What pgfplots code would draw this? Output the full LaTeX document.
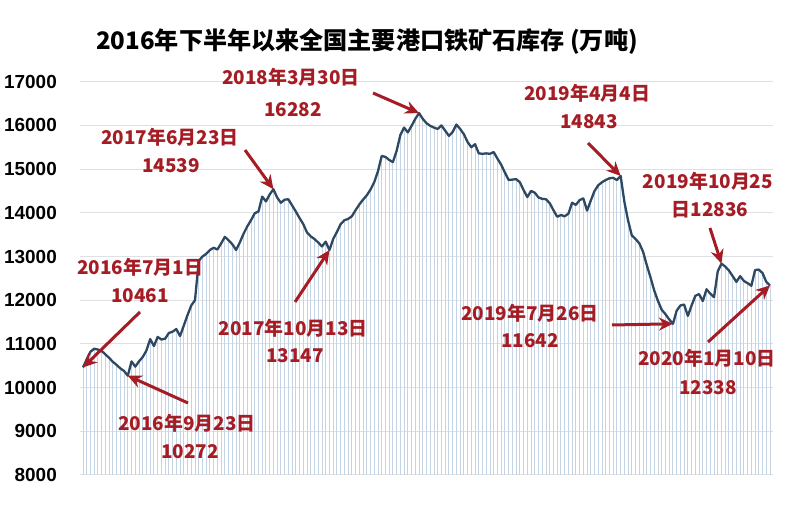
\documentclass[border=0pt]{standalone}
\usepackage{pgfplots}
\pgfplotsset{compat=1.18}
\usepackage{pgfplotstable}
\usetikzlibrary{arrows.meta}
\usepackage{fontspec}
\setmainfont{Liberation Sans}
\newfontfamily\cjk{Noto Sans CJK SC}

\definecolor{lineblue}{RGB}{45,72,98}
\definecolor{dropblue}{RGB}{196,212,228}
\definecolor{gridgray}{RGB}{222,224,228}
\definecolor{annored}{RGB}{165,28,36}

% weekly port inventory, 2016-07-01 .. 2020-01-10 (index = week)
\pgfplotstableread{
i v
0 10461
1 10650
2 10820
3 10890
4 10870
5 10840
6 10760
7 10680
8 10590
9 10520
10 10440
11 10380
12 10272
13 10600
14 10480
15 10600
16 10700
17 10850
18 11110
19 10950
20 11160
21 11100
22 11120
23 11250
24 11280
25 11340
26 11180
27 11420
28 11660
29 11880
30 12000
31 12900
32 13000
33 13060
34 13150
35 13200
36 13160
37 13300
38 13450
39 13370
40 13280
41 13150
42 13320
43 13520
44 13690
45 13830
46 13990
47 14030
48 14370
49 14260
50 14420
51 14539
52 14350
53 14230
54 14300
55 14310
56 14170
57 14030
58 13880
59 13740
60 13550
61 13460
62 13400
63 13320
64 13230
65 13340
66 13147
67 13400
68 13560
69 13740
70 13830
71 13860
72 13920
73 14060
74 14190
75 14300
76 14400
77 14530
78 14700
79 14950
80 15300
81 15280
82 15210
83 15160
84 15420
85 15780
86 15950
87 15840
88 15990
89 16150
90 16282
91 16150
92 16050
93 15990
94 15950
95 15920
96 16000
97 15880
98 15760
99 15850
100 16020
101 15920
102 15800
103 15620
104 15500
105 15570
106 15360
107 15350
108 15360
109 15350
110 15390
111 15240
112 15100
113 14920
114 14750
115 14760
116 14770
117 14700
118 14520
119 14360
120 14500
121 14460
122 14350
123 14320
124 14310
125 14220
126 14060
127 13910
128 13950
129 13920
130 13980
131 14230
132 14180
133 14290
134 14330
135 14050
136 14280
137 14500
138 14630
139 14700
140 14750
141 14790
142 14800
143 14750
144 14843
145 14250
146 13820
147 13480
148 13400
149 13300
150 13110
151 12800
152 12520
153 12220
154 11980
155 11780
156 11680
157 11560
158 11460
159 11760
160 11880
161 11900
162 11640
163 11880
164 12100
165 12140
166 11980
167 12250
168 12150
169 12070
170 12660
171 12836
172 12770
173 12680
174 12550
175 12420
176 12550
177 12440
178 12390
179 12330
180 12690
181 12700
182 12620
183 12420
184 12338
}\stock

\begin{document}
\begin{tikzpicture}
\useasboundingbox (0,0) rectangle (794bp,516bp);
\begin{axis}[
    at={(80bp,41bp)}, anchor=south west,
    scale only axis, width=693bp, height=393.3bp,
    xmin=-0.8, xmax=184.8,
    ymin=8000, ymax=17000,
    xtick=\empty,
    ytick={8000,9000,...,17000},
    scaled y ticks=false,
    /pgf/number format/1000 sep={},
    /pgf/number format/assume math mode=true,
    yticklabel style={font=\bfseries\fontsize{19}{19}\selectfont, inner sep=0pt, xshift=-23bp},
    ymajorgrids=true,
    grid style={draw=gridgray, line width=1bp},
    axis line style={draw=none},
    major tick length=0pt,
    clip mode=individual,
]
\addplot[ycomb, draw=dropblue, line width=0.9bp] table[x=i, y=v] {\stock};
\addplot[draw=lineblue, line width=2.3bp, line join=round] table[x=i, y=v] {\stock};

\coordinate (p0) at (axis cs:0,10461);
\coordinate (p12) at (axis cs:12,10272);
\coordinate (p51) at (axis cs:51,14539);
\coordinate (p66) at (axis cs:66,13147);
\coordinate (p90) at (axis cs:90,16282);
\coordinate (p144) at (axis cs:144,14843);
\coordinate (p158) at (axis cs:158,11460);
\coordinate (p171) at (axis cs:171,12836);
\coordinate (p184) at (axis cs:184,12338);
\end{axis}

\node[font=\cjk\bfseries\fontsize{24.2}{26}\selectfont] at (367bp,474bp) {2016年下半年以来全国主要港口铁矿石库存 (万吨)};

\tikzset{ann/.style={text=annored, font=\cjk\bfseries\fontsize{19}{21}\selectfont, inner sep=0pt},
         arr/.style={draw=annored, line width=3bp, -{Stealth[length=14bp, width=13bp]}}}

\node[ann] at (140bp,249bp) {2016年7月1日};
\node[ann] at (140bp,220bp) {10461};
\draw[arr] (140bp,204bp) -- (p0);

\node[ann] at (187bp,93bp) {2016年9月23日};
\node[ann] at (190bp,64bp) {10272};
\draw[arr] (188bp,113bp) -- (p12);

\node[ann] at (170bp,379bp) {2017年6月23日};
\node[ann] at (171bp,350bp) {14539};
\draw[arr] (245bp,366bp) -- (p51);

\node[ann] at (291bp,439bp) {2018年3月30日};
\node[ann] at (293bp,406bp) {16282};
\draw[arr] (373bp,423bp) -- (p90);

\node[ann] at (293bp,188bp) {2017年10月13日};
\node[ann] at (295bp,160bp) {13147};
\draw[arr] (295bp,214bp) -- (p66);

\node[ann] at (587bp,423bp) {2019年4月4日};
\node[ann] at (589bp,394bp) {14843};
\draw[arr] (588bp,373bp) -- (p144);

\node[ann] at (708bp,335bp) {2019年10月25};
\node[ann] at (710bp,306bp) {日12836};
\draw[arr] (710bp,288bp) -- (p171);

\node[ann] at (530bp,203bp) {2019年7月26日};
\node[ann] at (530bp,175bp) {11642};
\draw[arr] (612bp,191bp) -- (p158);

\node[ann] at (707bp,158bp) {2020年1月10日};
\node[ann] at (708bp,128bp) {12338};
\draw[arr] (708bp,174bp) -- (p184);
\end{tikzpicture}
\end{document}
